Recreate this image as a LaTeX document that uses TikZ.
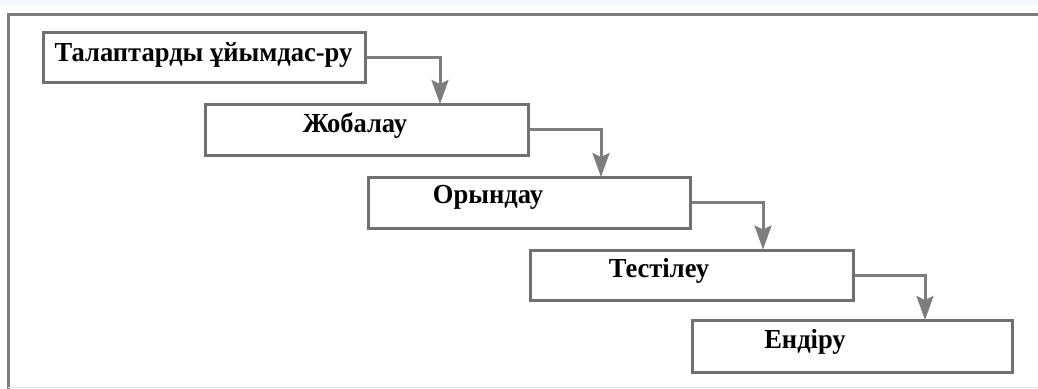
\documentclass[tikz,border=0pt]{standalone}
\usepackage{fontspec}
\setmainfont{Liberation Serif}
\usetikzlibrary{arrows.meta}
\definecolor{boxgray}{RGB}{112,112,112}
\definecolor{arrgray}{RGB}{125,125,125}
\definecolor{topstrip}{RGB}{243,248,254}
\newcommand{\stagelabel}[1]{\scalebox{0.965}[1]{#1}}
\tikzset{
  stagebox/.style={draw=boxgray, line width=3pt, fill=white, rectangle, inner sep=0pt},
  stagetext/.style={font=\fontsize{27.5}{32}\selectfont\bfseries, text=black, inner sep=0pt},
  flowarrow/.style={draw=arrgray, line width=3pt, -{Stealth[length=24pt,width=17pt,inset=4pt]}},
  framestyle/.style={draw=arrgray, line width=3pt}
}
\begin{document}
\begin{tikzpicture}[x=1pt,y=-1pt]
\useasboundingbox (0,0) rectangle (1038,388);
\fill[topstrip] (0,0) rectangle (1038,5);
\draw[framestyle] (8,400) -- (8,14) -- (1045,14);
\draw[draw=black!10, line width=1pt] (8,387) -- (1038,387);
% boxes
\node[stagebox, minimum width=322pt, minimum height=50pt] (b1) at (204,57) {};
\node[stagebox, minimum width=323pt, minimum height=51pt] (b2) at (366.5,129.5) {};
\node[stagebox, minimum width=322pt, minimum height=51pt] (b3) at (529,202.5) {};
\node[stagebox, minimum width=323pt, minimum height=50pt] (b4) at (691.5,275) {};
\node[stagebox, minimum width=320pt, minimum height=52pt] (b5) at (852,346) {};
% texts
\node[stagetext] (t1) at (203.5,55.5) {\stagelabel{Талаптарды ұйымдас-ру}};
\node[stagetext] (t2) at (355,125.5) {\stagelabel{Жобалау}};
\node[stagetext] (t3) at (488,197.5) {\stagelabel{Орындау}};
\node[stagetext] (t4) at (659,270.5) {\stagelabel{Тестілеу}};
\node[stagetext] (t5) at (805,341.5) {\stagelabel{Ендіру}};
% arrow targets
\coordinate (c1) at (440,104);
\coordinate (c2) at (601,177);
\coordinate (c3) at (763,249.5);
\coordinate (c4) at (925,320);
\draw[flowarrow] (b1) -| (c1);
\draw[flowarrow] (b2) -| (c2);
\draw[flowarrow] (b3) -| (c3);
\draw[flowarrow] (b4) -| (c4);
\end{tikzpicture}
\end{document}
